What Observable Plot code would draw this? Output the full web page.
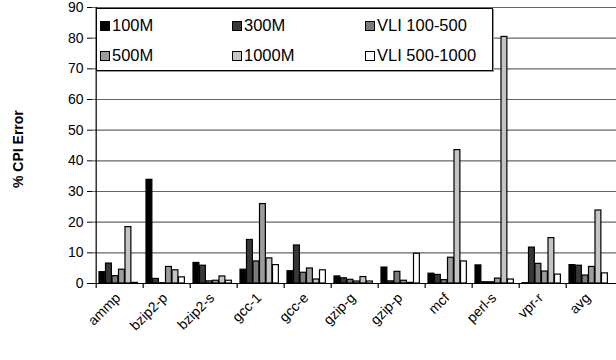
<!DOCTYPE html>
<html>
<head>
<meta charset="utf-8">
<script src="https://cdn.jsdelivr.net/npm/d3@7"></script>
<script src="https://cdn.jsdelivr.net/npm/@observablehq/plot@0.6"></script>
<style>
  html, body { margin: 0; padding: 0; background: #fff; }
  #wrap { position: relative; width: 616px; height: 360px; font-family: "Liberation Sans", Arial, sans-serif; }
  #legend { position: absolute; left: 96px; top: 8px; width: 397px; height: 63px; border: 1px solid #000; background: #fff; box-sizing: border-box; box-shadow: 1px 1px 0 #999; }
  .li { position: absolute; font-size: 16.5px; color: #000; display: flex; align-items: center; white-space: nowrap; }
  .sw { width: 10px; height: 10px; border: 1.5px solid #000; margin-right: 2px; box-sizing: border-box; }
  #ylab { position: absolute; left: 0; top: 0; font-weight: bold; font-size: 14px; transform-origin: 0 0; white-space: nowrap; }
</style>
</head>
<body>
<div id="wrap"></div>
<script>
const categories = ["ammp","bzip2-p","bzip2-s","gcc-1","gcc-e","gzip-g","gzip-p","mcf","perl-s","vpr-r","avg"];
const seriesNames = ["100M","300M","VLI 100-500","500M","1000M","VLI 500-1000"];
const seriesColors = ["#000000","#383838","#7a7a7a","#9c9c9c","#c4c4c4","#ffffff"];
const v100M     = [3.7, 33.8, 6.7, 4.5, 4.0, 2.3, 5.2, 3.2, 5.9, 0.1, 6.0];
const v300M     = [6.5, 1.5, 5.8, 14.2, 12.4, 1.7, 0.7, 2.8, 0.4, 11.7, 5.8];
const vVLI1     = [2.4, 0.1, 0.7, 7.2, 3.5, 1.2, 3.8, 1.1, 0.4, 6.4, 2.6];
const v500M     = [4.5, 5.4, 0.9, 25.9, 4.9, 0.65, 0.9, 8.4, 1.6, 3.9, 5.4];
const v1000M    = [18.4, 4.3, 2.3, 8.2, 1.3, 2.1, 0.2, 43.5, 80.4, 14.8, 23.8];
const vVLI2     = [0.2, 2.0, 0.9, 6.0, 4.3, 0.65, 9.7, 7.2, 1.3, 2.9, 3.3];
const seriesValues = [v100M, v300M, vVLI1, v500M, v1000M, vVLI2];
const yTicks = [0,10,20,30,40,50,60,70,80,90];

const W = 616, H = 360, mL = 92, mR = 0, mT = 7, mB = 77;
const bw = (W - mL - mR) / categories.length;
const pad = 3, barW = 6.5;

const barMarks = seriesNames.map((s, i) => {
  const rows = categories.map((c, j) => ({cat: c, series: s, value: seriesValues[i][j]}));
  return Plot.barY(rows, {
    x: "cat", y: "value",
    fill: seriesColors[i], stroke: "#000", strokeWidth: 1.2,
    insetLeft: pad + barW * i,
    insetRight: bw - pad - barW * (i + 1)
  });
});

const chart = Plot.plot({
  width: W, height: H,
  marginLeft: mL, marginRight: mR, marginTop: mT, marginBottom: mB,
  style: {fontFamily: "'Liberation Sans', Arial, sans-serif", fontSize: "14px", color: "#000", background: "#fff"},
  x: {domain: categories, padding: 0},
  y: {domain: [0, 90]},
  marks: [
    Plot.gridY(yTicks, {stroke: "#666", strokeOpacity: 1, strokeWidth: 1.2}),
    ...barMarks,
    Plot.ruleY([0], {stroke: "#000", strokeWidth: 1.2}),
    Plot.ruleX([categories[0]], {x: d => d, dx: -bw / 2, y1: 0, y2: 90, stroke: "#000", strokeWidth: 1.2}),
    Plot.ruleX(categories, {x: d => d, dx: -bw / 2, y1: 0, y2: 0, insetBottom: -5, stroke: "#000", strokeWidth: 1.2}),
    Plot.axisY(yTicks, {tickSize: 5, tickPadding: 4, label: null, fontSize: 14, stroke: "#000"}),
    Plot.axisX({tickSize: 0, tickRotate: -45, tickPadding: 12, dx: -2, label: null, fontSize: 14})
  ]
});

const wrap = document.getElementById("wrap");
wrap.appendChild(chart);

// legend
const legend = document.createElement("div");
legend.id = "legend";
const colX = [3, 135, 268];
const rowY = [7, 37];
seriesNames.forEach((s, i) => {
  const item = document.createElement("div");
  item.className = "li";
  item.style.left = colX[i % 3] + "px";
  item.style.top = rowY[Math.floor(i / 3)] + "px";
  const sw = document.createElement("span");
  sw.className = "sw";
  sw.style.background = seriesColors[i];
  item.appendChild(sw);
  item.appendChild(document.createTextNode(s));
  legend.appendChild(item);
});
wrap.appendChild(legend);

const ylab = document.createElement("div");
ylab.id = "ylab";
ylab.textContent = "% CPI Error";
ylab.style.transform = "translate(10px, 188px) rotate(-90deg)";
wrap.appendChild(ylab);
</script>
</body>
</html>
